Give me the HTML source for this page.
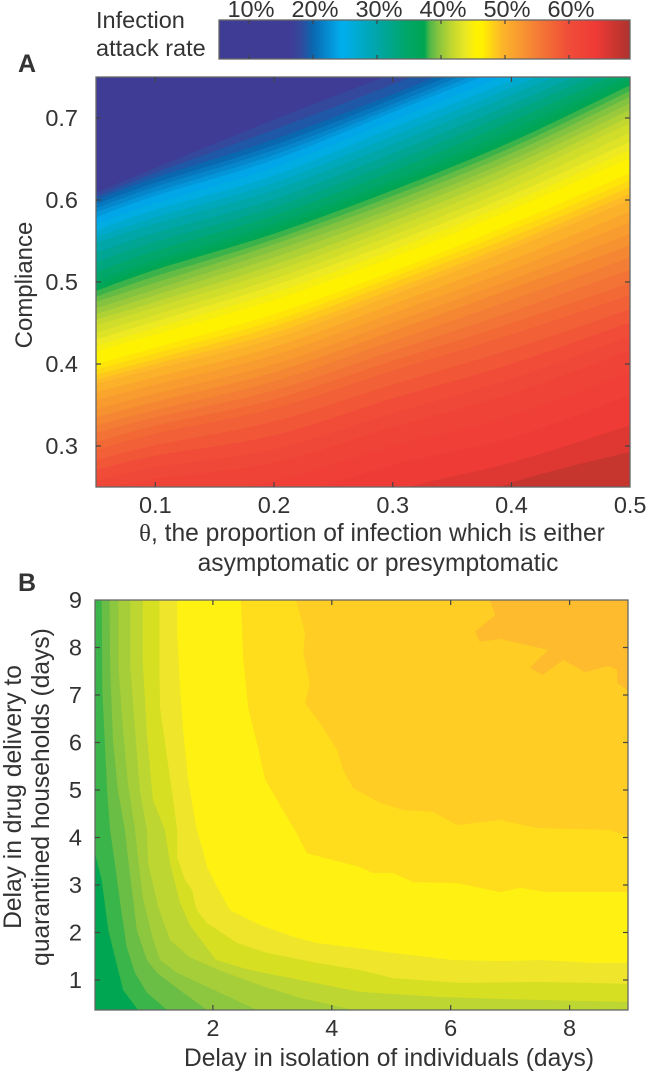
<!DOCTYPE html>
<html lang="en">
<head>
<meta charset="utf-8">
<title>Infection attack rate contour charts</title>
<style>
html,body{margin:0;padding:0;background:#fff;}
svg{display:block;}
text{font-family:"Liberation Sans",sans-serif;fill:#333;font-size:23.5px;}
.tick{stroke:#444;stroke-width:1.2;}
.frame{fill:none;stroke:#666;stroke-width:1.3;}
.title{font-size:24.6px;}
</style>
</head>
<body>
<svg id="chart" xmlns="http://www.w3.org/2000/svg" width="646" height="1072" viewBox="0 0 646 1072">
  <defs>
    <linearGradient id="colorbar-gradient" gradientUnits="userSpaceOnUse" x1="219" x2="630" y1="0" y2="0"></linearGradient>
    <clipPath id="clip-a"><rect x="96" y="77" width="534" height="410"></rect></clipPath>
    <clipPath id="clip-b"><rect x="95" y="600" width="533" height="410"></rect></clipPath>
  </defs>

  <text x="96" y="28">Infection</text>
  <text x="96" y="56">attack rate</text>
  <rect id="colorbar" x="219" y="20" width="411" height="39" fill="url(#colorbar-gradient)"></rect>
  <rect class="frame" x="219" y="20" width="411" height="39"></rect>
  <g id="colorbar-ticks"></g>

  <text x="18" y="72" style="font-weight:bold;font-size:25px">A</text>
  <g id="plot-a" clip-path="url(#clip-a)">
    <rect x="96" y="77" width="534" height="410" fill="#3f3c96"></rect>
  </g>
  <rect class="frame" x="96" y="77" width="534" height="410"></rect>
  <g id="axes-a"></g>
  <text transform="translate(32,285) rotate(-90)" text-anchor="middle" style="font-size:24px">Compliance</text>
  <text class="title" x="372" y="541" text-anchor="middle"><tspan style="font-family:'Liberation Serif',serif">θ</tspan>, the proportion of infection which is either</text>
  <text class="title" x="378" y="571" text-anchor="middle">asymptomatic or presymptomatic</text>

  <text x="18" y="591" style="font-weight:bold;font-size:25px">B</text>
  <g id="plot-b" clip-path="url(#clip-b)">
    <rect x="95" y="600" width="533" height="410" fill="#00a651"></rect>
  </g>
  <rect class="frame" x="95" y="600" width="533" height="410"></rect>
  <g id="axes-b"></g>
  <text class="title" transform="translate(21,797) rotate(-90)" text-anchor="middle">Delay in drug delivery to</text>
  <text class="title" transform="translate(49,797) rotate(-90)" text-anchor="middle">quarantined households (days)</text>
  <text class="title" x="389" y="1066" text-anchor="middle">Delay in isolation of individuals (days)</text>
</svg>

<script>
// ---------- colour scale ----------
const colormapValues = [5, 16.5, 18, 20, 24.5, 30, 34.5, 37.4, 38.2, 39.7, 41.7, 43.9, 45.5, 46.4, 49.5, 54.8, 60, 64.2, 67.4, 69.5];
const colormapColors = ['#3f3c96','#3f3c96','#34489c','#0a68b0','#00aeef','#00a6a8','#00a66a','#00a651','#4fb748','#8bc53f','#c1d72f','#ece824','#fff200','#fff200','#fdb62a','#f47f35','#f04c38','#ee3a36','#c8352f','#ac3430'];
const colorbarTicks = [10, 20, 30, 40, 50, 60];

// ---------- panel A data ----------
const thetaGrid = [0.05, 0.1, 0.2, 0.3, 0.4, 0.5];
const levelsA = [18,19,20,21,22,23,24,25.5,27,28.5,30,31.5,33,34.5,36,37,38,38.75,39.5,40.25,41,41.75,42.5,43.25,44,44.75,45.5,46.25,47,47.75,48.5,49.25,50,51,52,53,54,55,56,57,58,59,60,61,62,63,64,65.5,67.5];
const complianceA = [
  [.609,.639,.698,.754,.810,.868],
  [.604,.633,.686,.741,.800,.859],
  [.600,.627,.674,.729,.789,.850],
  [.595,.621,.667,.723,.783,.844],
  [.590,.616,.661,.717,.777,.838],
  [.585,.610,.655,.712,.771,.832],
  [.579,.605,.649,.707,.765,.826],
  [.571,.596,.640,.697,.755,.816],
  [.563,.588,.630,.688,.746,.807],
  [.555,.579,.621,.678,.737,.798],
  [.548,.571,.612,.668,.728,.789],
  [.536,.560,.601,.657,.717,.780],
  [.524,.549,.591,.646,.707,.771],
  [.512,.538,.581,.635,.696,.761],
  [.501,.527,.571,.624,.685,.752],
  [.495,.521,.565,.618,.678,.746],
  [.489,.515,.559,.612,.671,.740],
  [.482,.507,.552,.605,.664,.733],
  [.476,.499,.546,.598,.657,.726],
  [.468,.491,.538,.590,.649,.718],
  [.461,.484,.530,.583,.642,.710],
  [.454,.476,.521,.574,.633,.702],
  [.447,.469,.513,.566,.625,.694],
  [.438,.460,.504,.557,.615,.682],
  [.430,.452,.496,.548,.606,.671],
  [.422,.444,.487,.539,.597,.661],
  [.415,.436,.478,.530,.588,.651],
  [.407,.428,.469,.521,.579,.642],
  [.400,.420,.461,.513,.571,.633],
  [.393,.413,.453,.506,.563,.624],
  [.387,.406,.446,.499,.555,.616],
  [.381,.400,.438,.491,.547,.608],
  [.376,.394,.431,.484,.540,.600],
  [.366,.384,.421,.473,.527,.586],
  [.356,.375,.411,.462,.515,.573],
  [.345,.364,.400,.451,.503,.559],
  [.335,.354,.390,.440,.492,.545],
  [.325,.344,.379,.428,.478,.530],
  [.316,.335,.368,.416,.464,.515],
  [.305,.325,.357,.404,.450,.499],
  [.295,.315,.346,.392,.436,.484],
  [.283,.301,.330,.375,.418,.467],
  [.271,.288,.313,.358,.400,.451],
  [.258,.274,.296,.340,.382,.434],
  [.246,.260,.280,.323,.364,.417],
  [.212,.235,.257,.300,.337,.390],
  [.179,.210,.234,.277,.310,.362],
  [.112,.136,.185,.244,.280,.325],
  [.063,.088,.130,.197,.255,.293]
];
const xTicksA = ['0.1','0.2','0.3','0.4','0.5'];
const yTicksA = ['0.3','0.4','0.5','0.6','0.7'];

// ---------- panel B data (delay in isolation, delay in drug delivery) ----------
const contourB0 = [[0,3.74],[.13,3.11],[.24,2.05],[.49,.79],[.74,.37]];
const contourB1 = [[.13,9],[.14,7.1],[.22,5],[.27,4.16],[.35,3.46],[.44,2.62],[.55,1.69],[.69,1.15],[.89,.73],[1.23,.37]];
const contourB2 = [[.26,9],[.27,7.59],[.32,6.05],[.40,5],[.52,4.16],[.57,3.59],[.64,2.89],[.72,2.05],[.89,1.42],[1.06,1.15],[1.5,.73],[1.9,.37]];
const contourB3 = [[.41,9],[.41,7.59],[.49,6.26],[.57,5.15],[.69,4.16],[.74,3.59],[.82,2.75],[.98,1.91],[1.11,1.42],[1.40,1.15],[2.12,.73],[2.74,.37]];
const contourB4 = [[.61,9],[.61,7.59],[.69,6.26],[.77,5],[.89,4.16],[.91,3.46],[1.08,2.54],[1.28,1.84],[1.61,1.48],[2.12,1.2],[2.79,.89],[3.47,.62],[4.36,.37]];
const contourB5 = [[.82,9],[.82,7.74],[.89,6.2],[.99,4.79],[1.19,4.16],[1.28,3.46],[1.45,2.62],[1.61,2.16],[2.05,1.42],[2.62,1.21],[3.47,1],[4.47,.75],[5.87,.64],[7.5,.58],[9.05,.54]];
const contourB6 = [[1.10,9],[1.10,7.67],[1.11,6.75],[1.23,5.69],[1.33,4.79],[1.40,4.16],[1.40,3.59],[1.53,3.11],[1.65,2.89],[1.73,2.47],[1.90,2.2],[2.41,1.78],[2.91,1.57],[3.68,1.38],[4.47,1.21],[5.03,1.04],[6.16,.94],[7.5,.96],[9.05,.92]];
const contourB7 = [[1.40,9],[1.40,8.31],[1.45,7.1],[1.50,6.26],[1.58,5.27],[1.67,4.58],[1.73,4.16],[1.83,3.74],[1.90,3.38],[2.07,2.96],[2.29,2.47],[2.79,2.16],[3.35,1.91],[3.75,1.78],[4.47,1.67],[5.03,1.57],[6.04,1.42],[6.88,1.40],[7.5,1.42],[8.39,1.36],[9.05,1.36]];
const contourB8 = [[2.47,9],[2.51,7.8],[2.59,6.75],[2.74,5.99],[2.88,5.21],[3.01,4.94],[3.30,4.31],[3.38,4.16],[3.58,3.67],[4.47,3.38],[4.69,3.25],[5.03,3.25],[5.37,3.06],[6.11,3.04],[6.83,2.85],[7.17,2.94],[7.62,2.85],[9.05,2.85]];
const contourB9 = [[3.40,9],[3.55,8.31],[3.52,7.88],[3.63,7.25],[3.55,6.83],[3.80,6.41],[4.09,5.84],[4.19,5.42],[4.36,5.04],[4.47,4.96],[4.81,4.73],[5.20,4.58],[5.70,4.54],[6.11,4.26],[6.83,4.37],[7.45,4.2],[8.65,4.16],[9.05,4.01]];
const contourB10 = [[6.66,9],[6.75,8.68],[6.41,8.33],[6.49,8.12],[6.83,8.18],[7.64,7.95],[7.33,7.57],[7.55,7.42],[7.89,7.74],[8.26,7.48],[8.65,7.61],[8.80,7.53],[8.80,7.25],[9.05,7.04]];
const contoursB = [contourB0,contourB1,contourB2,contourB3,contourB4,contourB5,contourB6,contourB7,contourB8,contourB9,contourB10];
const fillsB = ['#3ab54a','#6abd45','#8dc63f','#a6ce39','#bdd631','#d7df23','#efe62b','#fff212','#ffdd1c','#ffcd24','#fdbb2d'];
const xTicksB = [2,4,6,8];
const yTicksB = [1,2,3,4,5,6,7,8,9];

// ---------- axis functions ----------
const SVG_NS = 'http://www.w3.org/2000/svg';
function xBar(v){ return 249 + (v - 10) * 6.4; }
function xA(t){ return 96 + (t - 0.05) * 1187; }
function yA(c){ return 118 + (0.7 - c) * 820; }
function xB(d){ return 94 + d * 59.45; }
function yB(d){ return 980 - (d - 1) * 47.5; }

function hexToRgb(h){ return [1,3,5].map(function(i){ return parseInt(h.substr(i,2),16); }); }
function colorFor(v){
  var n = colormapValues.length;
  if (v <= colormapValues[0]) return colormapColors[0];
  if (v >= colormapValues[n-1]) return colormapColors[n-1];
  for (var i = 1; i < n; i++) {
    if (v <= colormapValues[i]) {
      var f = (v - colormapValues[i-1]) / (colormapValues[i] - colormapValues[i-1]);
      var a = hexToRgb(colormapColors[i-1]), b = hexToRgb(colormapColors[i]);
      return 'rgb(' + a.map(function(c,k){ return Math.round(c + (b[k]-c)*f); }).join(',') + ')';
    }
  }
}
function make(tag, parent){
  var el = document.createElementNS(SVG_NS, tag);
  parent.appendChild(el);
  return el;
}
function tickLine(parent, x1, y1, x2, y2){
  var l = make('line', parent);
  
  
  l.setAttribute('class', 'tick');
  l.setAttribute('x1', x1); l.setAttribute('y1', y1);
  l.setAttribute('x2', x2); l.setAttribute('y2', y2);
}
function tickText(parent, str, x, y, anchor){
  var t = make('text', parent);
  
  
  t.setAttribute('x', x); t.setAttribute('y', y);
  t.setAttribute('text-anchor', anchor);
  t.textContent = str;
}
// smooth path through points (Catmull-Rom to Bezier)
function smoothPath(pts){
  var d = 'M' + pts[0][0].toFixed(1) + ' ' + pts[0][1].toFixed(1);
  for (var i = 0; i < pts.length - 1; i++) {
    var p0 = pts[Math.max(i-1,0)], p1 = pts[i], p2 = pts[i+1], p3 = pts[Math.min(i+2,pts.length-1)];
    var c1x = p1[0] + (p2[0]-p0[0])/6, c1y = p1[1] + (p2[1]-p0[1])/6;
    var c2x = p2[0] - (p3[0]-p1[0])/6, c2y = p2[1] - (p3[1]-p1[1])/6;
    d += 'C' + c1x.toFixed(1) + ' ' + c1y.toFixed(1) + ' ' + c2x.toFixed(1) + ' ' + c2y.toFixed(1) + ' ' + p2[0].toFixed(1) + ' ' + p2[1].toFixed(1);
  }
  return d;
}

// ---------- colorbar ----------
var grad = document.getElementById('colorbar-gradient');
colormapValues.forEach(function(v, i){
  var s = make('stop', grad);
  s.setAttribute('offset', Math.max(0, Math.min(1, (xBar(v) - 219) / 411)));
  s.setAttribute('stop-color', colormapColors[i]);
});
var barTicks = document.getElementById('colorbar-ticks');
colorbarTicks.forEach(function(v){
  tickLine(barTicks, xBar(v), 20, xBar(v), 24);
  tickLine(barTicks, xBar(v), 55, xBar(v), 59);
  tickText(barTicks, v + '%', xBar(v) + 2, 17, 'middle');
});

// ---------- panel A ----------
var plotA = document.getElementById('plot-a');
levelsA.forEach(function(level, i){
  var pts = thetaGrid.map(function(t, k){ return [xA(t), yA(complianceA[i][k])]; });
  var p = make('path', plotA);
  
  
  p.setAttribute('d', smoothPath(pts) + 'L' + xA(0.5) + ' ' + yA(0) + 'L' + xA(0.05) + ' ' + yA(0) + 'Z');
  p.setAttribute('fill', colorFor(level));
});
var axesA = document.getElementById('axes-a');
xTicksA.forEach(function(s){
  var x = xA(parseFloat(s));
  if (parseFloat(s) < 0.5) {
    tickLine(axesA, x, 77, x, 82);
    tickLine(axesA, x, 482, x, 487);
  }
  tickText(axesA, s, x, 513, 'middle');
});
yTicksA.forEach(function(s){
  var y = yA(parseFloat(s));
  tickLine(axesA, 96, y, 101, y);
  tickLine(axesA, 625, y, 630, y);
  tickText(axesA, s, 78, y + 8, 'end');
});

// ---------- panel B ----------
var plotB = document.getElementById('plot-b');
contoursB.forEach(function(curve, i){
  var first = curve[0], last = curve[curve.length-1];
  var pts = curve.slice();
  if (last[1] <= 0.4) { pts.push([last[0], 0.3]); pts.push([9.05, 0.3]); }
  pts.push([9.05, 9.05]);
  pts.push([first[0], 9.05]);
  var p = make('polygon', plotB);
  
  
  p.setAttribute('points', pts.map(function(q){ return xB(q[0]).toFixed(1) + ',' + yB(q[1]).toFixed(1); }).join(' '));
  p.setAttribute('fill', fillsB[i]);
});
var axesB = document.getElementById('axes-b');
xTicksB.forEach(function(v){
  tickLine(axesB, xB(v), 600, xB(v), 605);
  tickLine(axesB, xB(v), 1005, xB(v), 1010);
  tickText(axesB, String(v), xB(v), 1036, 'middle');
});
yTicksB.forEach(function(v){
  if (v < 9) {
    tickLine(axesB, 95, yB(v), 100, yB(v));
    tickLine(axesB, 623, yB(v), 628, yB(v));
  }
  tickText(axesB, String(v), 82, yB(v) + 8, 'end');
});
</script>
</body>
</html>
